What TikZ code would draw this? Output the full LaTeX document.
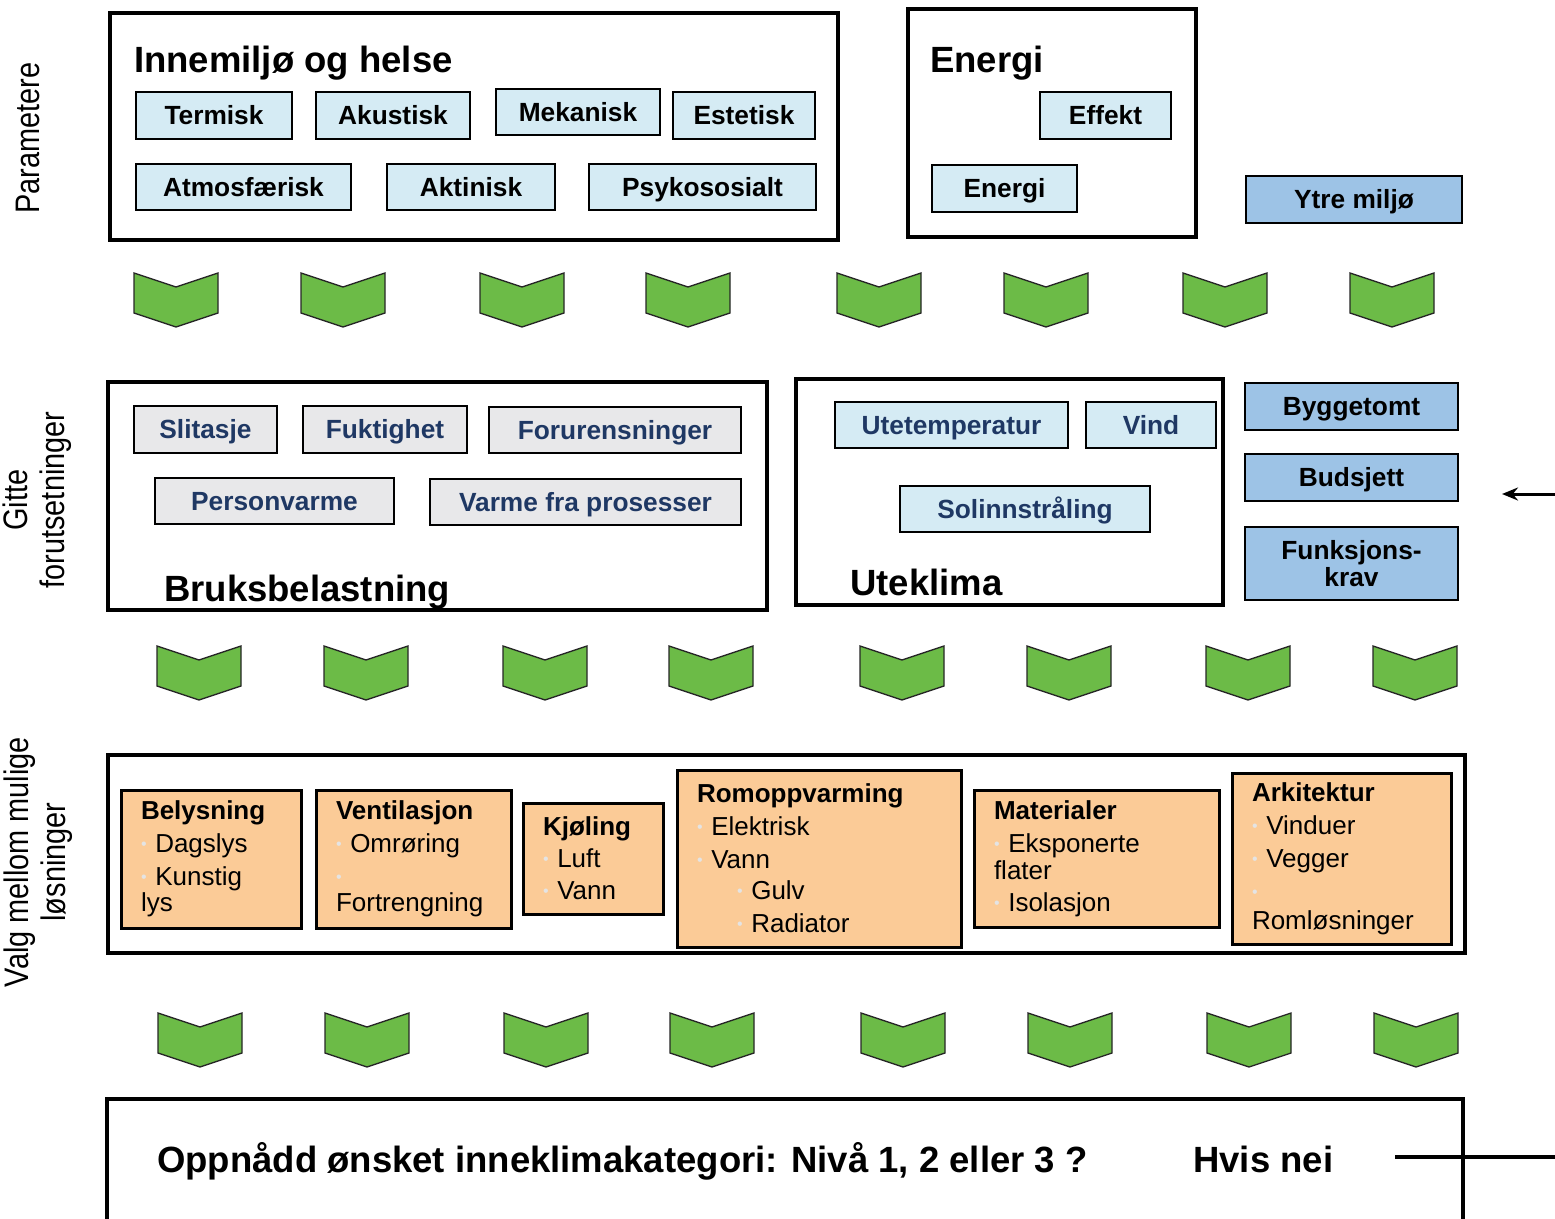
\documentclass[tikz,border=0pt]{standalone}
\usepackage{fontspec}
\setmainfont{Liberation Sans}
\newfontfamily\smalfont[FakeStretch=0.85]{Liberation Sans}
\usepackage{xcolor}
\usetikzlibrary{arrows.meta}
\definecolor{lysblaa}{HTML}{D5EBF4}
\definecolor{midblaa}{HTML}{9DC3E6}
\definecolor{lysgraa}{HTML}{E8E8EA}
\definecolor{marine}{HTML}{1F3864}
\definecolor{oransje}{HTML}{FBCB97}
\definecolor{gronn}{HTML}{6CBB47}
\definecolor{prikk}{HTML}{E4E4E4}
\tikzset{%
  pilspiss/.tip={Stealth[length=16pt,width=13pt]},
  wh/.style 2 args={minimum width=#1, minimum height=#2},
  ramme/.style={draw, line width=4pt, inner sep=0},
  boks/.style={draw, line width=2.5pt, inner sep=0, font=\fontsize{26.3}{27}\selectfont\bfseries},
  faktor/.style={boks, fill=lysblaa, text height=18.8pt, text depth=0pt},
  belastning/.style={faktor, fill=lysgraa, text=marine},
  ute/.style={faktor, text=marine},
  krav/.style={faktor, fill=midblaa},
  tiltak/.style={draw, line width=3pt, fill=oransje, align=left,
    inner xsep=20pt, inner ysep=0, font=\fontsize{26}{33}\selectfont},
  tittel/.style={anchor=base west, inner sep=0, font=\fontsize{36.5}{40}\selectfont\bfseries},
  sidetekst/.style={rotate=90, align=center, inner sep=0, font=\smalfont\fontsize{34}{37}\selectfont},
  chevron/.style={draw=black!85, line width=1.3pt, fill=gronn, line join=miter}
}
\newcommand{\blt}{{\color{prikk}\raisebox{3pt}{\fontsize{16}{16}\selectfont\textbullet}}\ }

\begin{document}
\begin{tikzpicture}[x=1pt,y=-1pt]
\useasboundingbox (0,0) rectangle (1555,1218);
% sidetekster
\node[sidetekst] (par) at (28,138) {Parametere};
\node[sidetekst] (gitte) at (37,500) {Gitte\\forutsetninger};
\node[sidetekst] (valg) at (38,862) {Valg mellom mulige\\løsninger};
% parametere
\node[ramme, wh={728}{227}] (helse) at (474,126.5) {};
\node[tittel] (helsetittel) at (134,72) {Innemiljø og helse};
\node[faktor, wh={156}{47}] (termisk) at (214,115.5) {Termisk};
\node[faktor, wh={154}{47}] (akustisk) at (393,115.5) {Akustisk};
\node[faktor, wh={164}{46}] (mekanisk) at (578,112) {Mekanisk};
\node[faktor, wh={142}{47}] (estetisk) at (744,115.5) {Estetisk};
\node[faktor, wh={215}{46}] (atmos) at (243.5,187) {Atmosfærisk};
\node[faktor, wh={168}{46}] (aktinisk) at (471,187) {Aktinisk};
\node[faktor, wh={227}{46}] (psyko) at (702.5,187) {Psykososialt};
\node[ramme, wh={288}{228}] (energi) at (1052,123) {};
\node[tittel] (energitittel) at (930,72) {Energi};
\node[faktor, wh={131}{47}] (effekt) at (1105.5,115.5) {Effekt};
\node[faktor, wh={145}{47}] (energibehov) at (1004.5,188.5) {Energi};
\node[krav, wh={216}{47}] (ytre) at (1354,199.5) {Ytre miljø};
% piler mellom nivaaene
\foreach \dx/\ty in {0/273, 23/646, 24/1013}
  \foreach \cx in {176,343,522,688,879,1046,1225,1392}
    \filldraw[chevron] (\cx+\dx-42,\ty) -- ++(42,14) -- ++(42,-14) -- ++(0,40) -- ++(-42,14) -- ++(-42,-14) -- cycle;
% gitte forutsetninger
\node[ramme, wh={659}{228}] (bruk) at (437.5,496) {};
\node[tittel] (bruktittel) at (164,601) {Bruksbelastning};
\node[belastning, wh={143}{47}] (slitasje) at (205.5,429.5) {Slitasje};
\node[belastning, wh={164}{47}] (fukt) at (385,429.5) {Fuktighet};
\node[belastning, wh={252}{46}] (forurens) at (615,430) {Forurensninger};
\node[belastning, wh={239}{46}] (person) at (274.5,501) {Personvarme};
\node[belastning, wh={311}{46}] (prosess) at (585.5,502) {Varme fra prosesser};
\node[ramme, wh={427}{226}] (uteklima) at (1009.5,492) {};
\node[tittel] (utetittel) at (850,595) {Uteklima};
\node[ute, wh={233}{46}] (utetemp) at (951.5,425) {Utetemperatur};
\node[ute, wh={130}{46}] (vind) at (1151,425) {Vind};
\node[ute, wh={250}{46}] (sol) at (1025,509) {Solinnstråling};
\node[krav, wh={213}{47}] (tomt) at (1351.5,406.5) {Byggetomt};
\node[krav, wh={213}{47}] (budsjett) at (1351.5,477.5) {Budsjett};
\node[boks, fill=midblaa, align=center, wh={213}{73}] (funksjon) at (1351.5,563.5) {Funksjons-\\krav};
\coordinate (inn) at (1555,494);
\coordinate (innspiss) at (1502,494);
\draw[line width=3pt, -pilspiss] (inn) -- (innspiss);
% valg av loesninger
\node[ramme, wh={1357}{198}] (valgramme) at (786.5,854) {};
\node[tiltak, wh={180}{138}, text width=140pt] (lys) at (211,859)
  {\textbf{Belysning}\\\blt Dagslys\\\blt Kunstig\\[-7pt]lys};
\node[tiltak, wh={195}{138}, text width=155pt] (vent) at (413.5,859)
  {\textbf{Ventilasjon}\\\blt Omrøring\\\blt\\[-7pt]Fortrengning};
\node[tiltak, wh={140}{111}, text width=100pt] (kjol) at (593,858.5)
  {\textbf{Kjøling}\\[-1pt]\blt Luft\\[-1pt]\blt Vann};
\node[tiltak, wh={284}{177}, text width=244pt] (romvarme) at (819,858.5)
  {\textbf{Romoppvarming}\\\blt Elektrisk\\\blt Vann\\[-2pt]\hspace*{40pt}\blt Gulv\\\hspace*{40pt}\blt Radiator};
\node[tiltak, wh={245}{137}, text width=205pt] (mat) at (1096.5,858.5)
  {\textbf{Materialer}\\\blt Eksponerte\\[-6pt]flater\\[-1pt]\blt Isolasjon};
\node[tiltak, wh={219}{171}, text width=179pt] (arki) at (1341.5,858.5)
  {\textbf{Arkitektur}\\\blt Vinduer\\\blt Vegger\\\blt\\[-4pt]Romløsninger};
% resultat
\node[ramme, wh={1356}{160}] (resultat) at (785,1179) {};
\node[tittel] (sporsmal) at (157,1172) {Oppnådd ønsket inneklimakategori: Nivå 1, 2 eller 3 ?};
\node[tittel] (hvisnei) at (1193,1172) {Hvis nei};
\coordinate (neifra) at (1395,1157);
\coordinate (neitil) at (1555,1157);
\draw[line width=4pt] (neifra) -- (neitil);
\end{tikzpicture}
\end{document}
